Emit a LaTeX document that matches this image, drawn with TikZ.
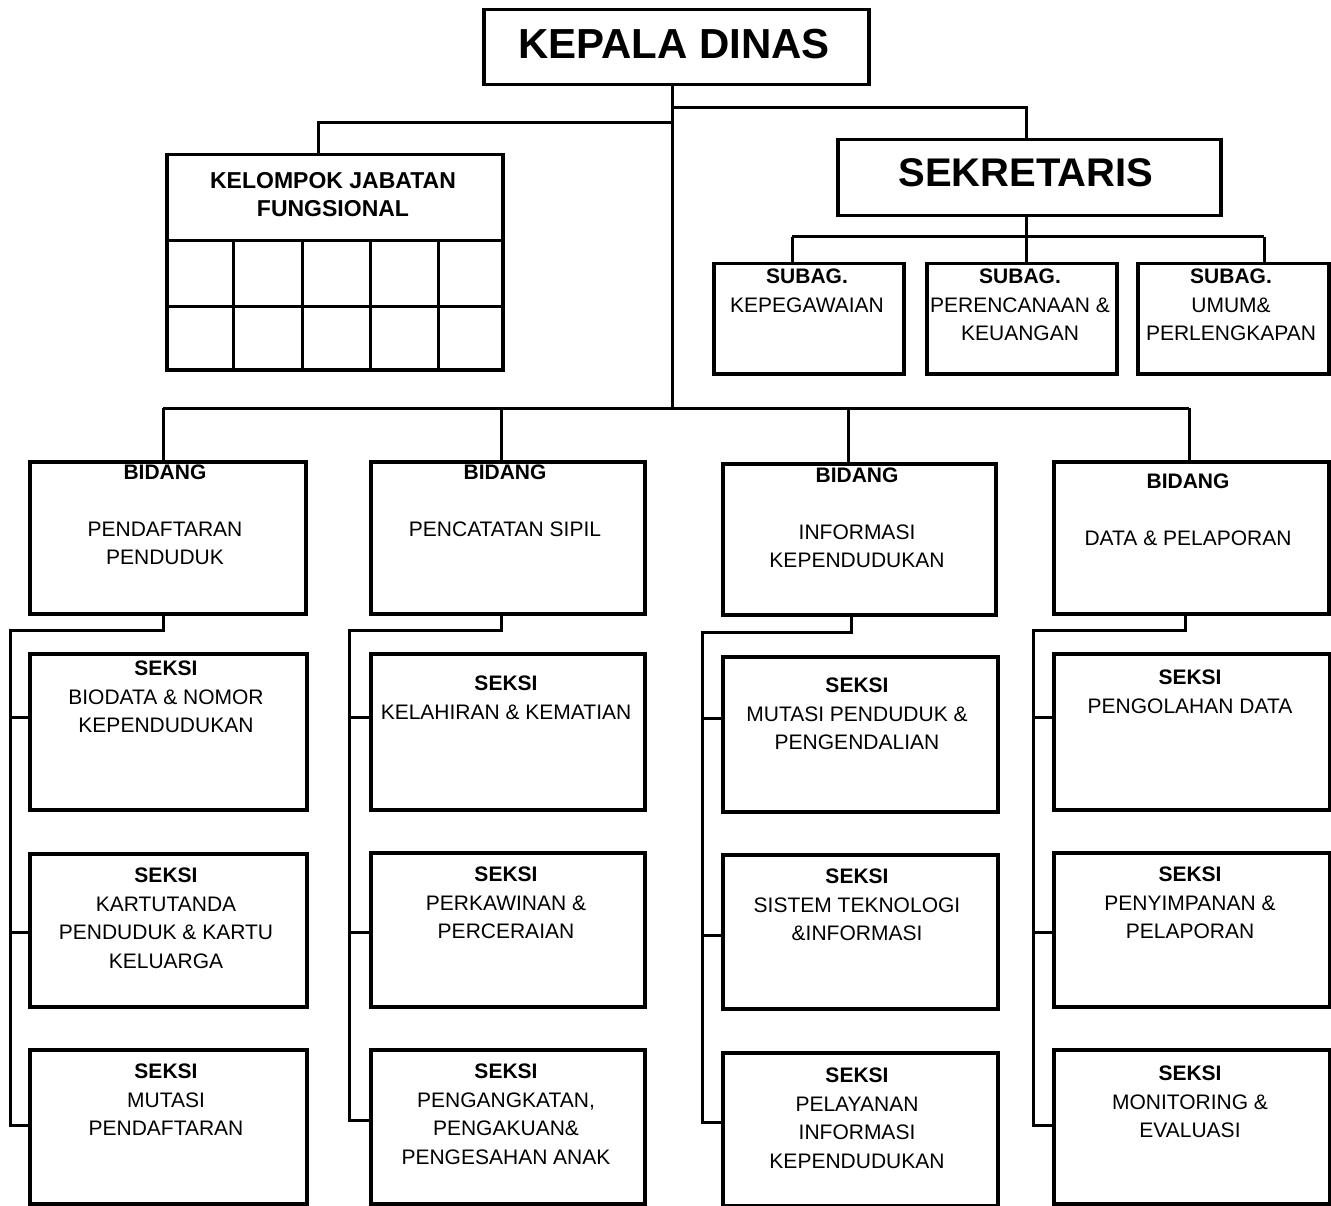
\documentclass[tikz,border=0pt]{standalone}
\usepackage{fontspec}
\setmainfont{Liberation Sans}
\usetikzlibrary{calc}
\tikzset{
  box/.style={draw, line width=3.5pt, inner sep=0pt, anchor=north west, fill=white},
  conn/.style={line width=3pt},
  txt/.style={inner sep=0pt, align=center, font=\fontsize{21}{28.5}\selectfont, anchor=north},
}
\newcommand\mybox[5]{\node[box, minimum width={(#4-#2)*1pt}, minimum height={(#5-#3)*1pt}] (#1) at (#2,#3) {};}
\newcommand\mytxt[4]{\node[txt] (#1) at (#2,#3-8) {#4};}
\begin{document}
\begin{tikzpicture}[x=1pt,y=-1pt]
\useasboundingbox (0,0) rectangle (1331,1206);
\coordinate (kdfoot) at (672,83);
\coordinate (bidbus) at (672,408);
% boxes
\mybox{kd}{482}{8}{867}{83}
\mybox{kjf}{165}{153}{501}{368}
\mybox{sek}{836}{138}{1219}{214}
\mybox{sg1}{712}{262}{902}{372}
\mybox{sg2}{925}{262}{1115}{372}
\mybox{sg3}{1136}{262}{1327}{372}
\mybox{b1}{28}{460}{304}{612}
\mybox{b2}{369}{460}{643}{612}
\mybox{b3}{721}{462}{994}{613}
\mybox{b4}{1052}{460}{1327}{612}
% seksi col1
\mybox{s11}{28}{652}{305}{808}
\mybox{s12}{28}{852}{305}{1005}
\mybox{s13}{28}{1048}{305}{1202}
% col2
\mybox{s21}{369}{652}{643}{808}
\mybox{s22}{369}{851}{643}{1005}
\mybox{s23}{369}{1048}{643}{1202}
% col3
\mybox{s31}{721}{655}{996}{810}
\mybox{s32}{721}{853}{996}{1007}
\mybox{s33}{721}{1051}{996}{1204}
% col4
\mybox{s41}{1052}{652}{1328}{808}
\mybox{s42}{1052}{851}{1328}{1005}
\mybox{s43}{1052}{1048}{1328}{1202}
% KJF grid
\draw[line width=3pt] (kjf.west |- 0,241) -- (kjf.east |- 0,241);
\draw[line width=3pt] (kjf.west |- 0,307) -- (kjf.east |- 0,307);
\foreach \xx in {233,302,370,438} {\draw[line width=3pt] (\xx,241) -- (\xx,368);}
% ---------- connectors ----------
\draw[conn] (kd.south -| kdfoot) -- (bidbus);
\draw[conn] (672,108) -- (1026,108) -- (sek.north -| 1026,0);
\draw[conn] (672,123) -- (318,123) -- (kjf.north -| 318,0);
\draw[conn] (sek.south -| 1026,0) -- (1026,237);
\draw[conn] (792,237) -- (1264,237);
\draw[conn] (792,237) -- (sg1.north -| 792,0);
\draw[conn] (1026,237) -- (sg2.north -| 1026,0);
\draw[conn] (1264,237) -- (sg3.north -| 1264,0);
\draw[conn] (163,408) -- (1189,408);
\draw[conn] (163,408) -- (b1.north -| 163,0);
\draw[conn] (501,408) -- (b2.north -| 501,0);
\draw[conn] (848,408) -- (b3.north -| 848,0);
\draw[conn] (1189,408) -- (b4.north -| 1189,0);
% column 1
\draw[conn] (b1.south -| 163,0) -- (163,630) -- (10,630) -- (10,1125) -- (s13.west |- 0,1125);
\draw[conn] (10,717) -- (s11.west |- 0,717);
\draw[conn] (10,932) -- (s12.west |- 0,932);
% column 2
\draw[conn] (b2.south -| 501,0) -- (501,630) -- (349,630) -- (349,1120) -- (s23.west |- 0,1120);
\draw[conn] (349,717) -- (s21.west |- 0,717);
\draw[conn] (349,932) -- (s22.west |- 0,932);
% column 3
\draw[conn] (b3.south -| 851,0) -- (851,632) -- (702,632) -- (702,1122) -- (s33.west |- 0,1122);
\draw[conn] (702,718) -- (s31.west |- 0,718);
\draw[conn] (702,935) -- (s32.west |- 0,935);
% column 4
\draw[conn] (b4.south -| 1185,0) -- (1185,630) -- (1033,630) -- (1033,1125) -- (s43.west |- 0,1125);
\draw[conn] (1033,717) -- (s41.west |- 0,717);
\draw[conn] (1033,932) -- (s42.west |- 0,932);
% ---------- texts ----------
\node[inner sep=0pt, anchor=base, font=\fontsize{42}{48}\selectfont\bfseries] (tkd) at (674,59) {KEPALA DINAS};
\node[inner sep=0pt, anchor=base, font=\fontsize{40}{46}\selectfont\bfseries] (tsek) at (1026,187) {SEKRETARIS};
\node[txt, font=\fontsize{23}{28}\selectfont\bfseries] (tkjf) at (333,172) {KELOMPOK JABATAN\\FUNGSIONAL};
\mytxt{tsg1}{807}{277}{\textbf{SUBAG.}\\KEPEGAWAIAN}
\mytxt{tsg2}{1020}{277}{\textbf{SUBAG.}\\PERENCANAAN \&\\KEUANGAN}
\mytxt{tsg3}{1231}{277}{\textbf{SUBAG.}\\UMUM\&\\PERLENGKAPAN}
\mytxt{tb1}{165}{473}{\textbf{BIDANG}\\[28pt]PENDAFTARAN\\PENDUDUK}
\mytxt{tb2}{505}{473}{\textbf{BIDANG}\\[28pt]PENCATATAN SIPIL}
\mytxt{tb3}{857}{476}{\textbf{BIDANG}\\[28pt]INFORMASI\\KEPENDUDUKAN}
\mytxt{tb4}{1188}{482}{\textbf{BIDANG}\\[28pt]DATA \& PELAPORAN}
\mytxt{ts11}{166}{669}{\textbf{SEKSI}\\BIODATA \& NOMOR\\KEPENDUDUKAN}
\mytxt{ts12}{166}{876}{\textbf{SEKSI}\\KARTUTANDA\\PENDUDUK \& KARTU\\KELUARGA}
\mytxt{ts13}{166}{1072}{\textbf{SEKSI}\\MUTASI\\PENDAFTARAN}
\mytxt{ts21}{506}{684}{\textbf{SEKSI}\\KELAHIRAN \& KEMATIAN}
\mytxt{ts22}{506}{875}{\textbf{SEKSI}\\PERKAWINAN \&\\PERCERAIAN}
\mytxt{ts23}{506}{1072}{\textbf{SEKSI}\\PENGANGKATAN,\\PENGAKUAN\&\\PENGESAHAN ANAK}
\mytxt{ts31}{857}{686}{\textbf{SEKSI}\\MUTASI PENDUDUK \&\\PENGENDALIAN}
\mytxt{ts32}{857}{877}{\textbf{SEKSI}\\SISTEM TEKNOLOGI\\\&INFORMASI}
\mytxt{ts33}{857}{1076}{\textbf{SEKSI}\\PELAYANAN\\INFORMASI\\KEPENDUDUKAN}
\mytxt{ts41}{1190}{678}{\textbf{SEKSI}\\PENGOLAHAN DATA}
\mytxt{ts42}{1190}{875}{\textbf{SEKSI}\\PENYIMPANAN \&\\PELAPORAN}
\mytxt{ts43}{1190}{1074}{\textbf{SEKSI}\\MONITORING \&\\EVALUASI}
\end{tikzpicture}
\end{document}
